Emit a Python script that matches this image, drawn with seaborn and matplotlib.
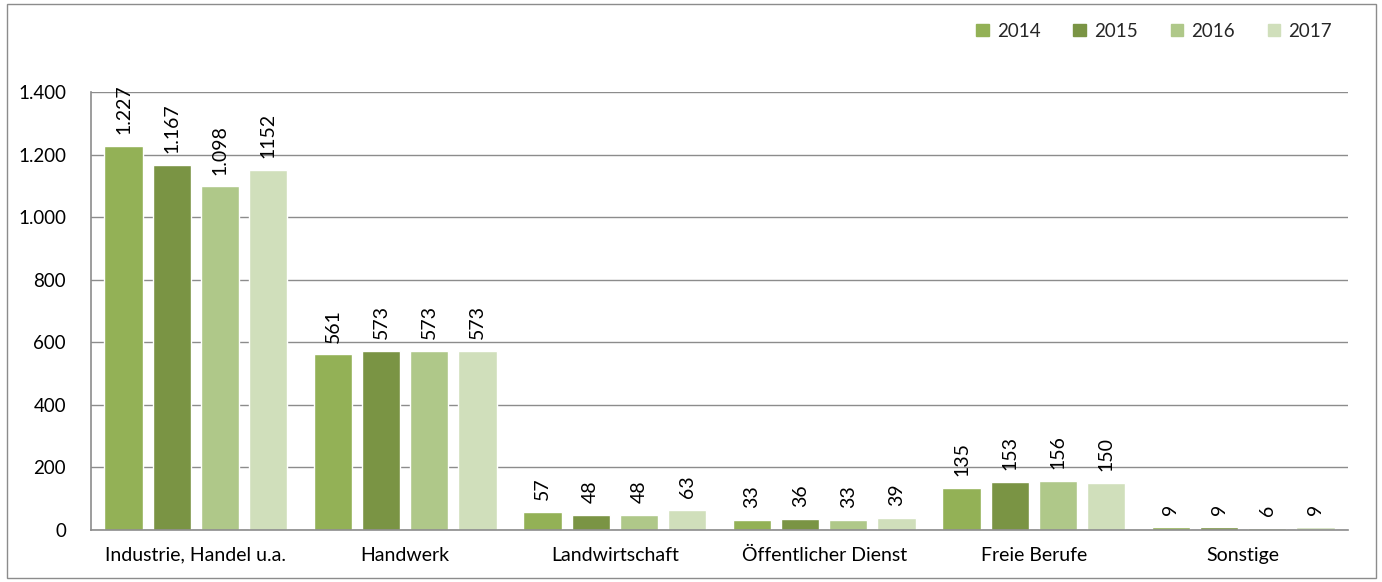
import matplotlib
matplotlib.use("Agg")
import matplotlib.pyplot as plt
import matplotlib.patches as mpatches
from matplotlib.ticker import FuncFormatter
import seaborn as sns
import pandas as pd

categories = ["Industrie, Handel u.a.", "Handwerk", "Landwirtschaft",
              "Öffentlicher Dienst", "Freie Berufe", "Sonstige"]
years = ["2014", "2015", "2016", "2017"]
values_2014 = [1227, 561, 57, 33, 135, 9]
values_2015 = [1167, 573, 48, 36, 153, 9]
values_2016 = [1098, 573, 48, 33, 156, 6]
values_2017 = [1152, 573, 63, 39, 150, 9]
bar_labels_2014 = ["1.227", "561", "57", "33", "135", "9"]
bar_labels_2015 = ["1.167", "573", "48", "36", "153", "9"]
bar_labels_2016 = ["1.098", "573", "48", "33", "156", "6"]
bar_labels_2017 = ["1152", "573", "63", "39", "150", "9"]
colors = ["#93b156", "#7a9444", "#afc889", "#d0dfbb"]

series = [values_2014, values_2015, values_2016, values_2017]
label_sets = [bar_labels_2014, bar_labels_2015, bar_labels_2016, bar_labels_2017]
rows = []
for yr, vals in zip(years, series):
    for cat, v in zip(categories, vals):
        rows.append({"Bereich": cat, "Jahr": yr, "Wert": v})
df = pd.DataFrame(rows)

sns.set_style("white")
plt.rcParams["font.family"] = ["Lato", "DejaVu Sans"]

fig = plt.figure(figsize=(13.82, 5.82), dpi=100)
ax = fig.add_axes([91 / 1382, 52 / 582, 1257 / 1382, 438 / 582])

sns.barplot(data=df, x="Bereich", y="Wert", hue="Jahr", palette=colors,
            order=categories, hue_order=years, width=0.92, gap=0.21,
            saturation=1, errorbar=None, ax=ax, legend=False)

for container, labels in zip(ax.containers, label_sets):
    ax.bar_label(container, labels=labels, rotation=90, padding=8.5,
                 fontsize=14, color="#000000")

ax.set_ylim(0, 1400)
ax.set_xlim(-0.5, len(categories) - 0.5)
ax.set_yticks(range(0, 1401, 200))
ax.yaxis.set_major_formatter(FuncFormatter(lambda v, p: f"{int(v):,}".replace(",", ".")))
ax.grid(axis="y", color="#8c8c8c", linewidth=1)
ax.set_axisbelow(True)
for side in ["top", "right"]:
    ax.spines[side].set_visible(False)
for side in ["bottom", "left"]:
    ax.spines[side].set_color("#8c8c8c")
    ax.spines[side].set_linewidth(1.2)
ax.set_xlabel("")
ax.set_ylabel("")
ax.tick_params(axis="both", length=0, colors="#000000")
ax.tick_params(axis="x", pad=12, labelsize=14)
ax.tick_params(axis="y", pad=18, labelsize=13.5)

handles = [mpatches.Patch(color=c, label=y) for c, y in zip(colors, years)]
fig.legend(handles=handles, loc="upper right", bbox_to_anchor=(0.976, 0.99),
           ncol=4, frameon=False, fontsize=13.5, handlelength=0.65,
           handleheight=0.65, handletextpad=0.45, columnspacing=1.75)

fig.patches.append(mpatches.Rectangle((7 / 1382, 4 / 582), 1369 / 1382, 574 / 582,
                                      transform=fig.transFigure, fill=False,
                                      edgecolor="#8c8c8c", linewidth=1))

fig.savefig("out.png", dpi=100)
